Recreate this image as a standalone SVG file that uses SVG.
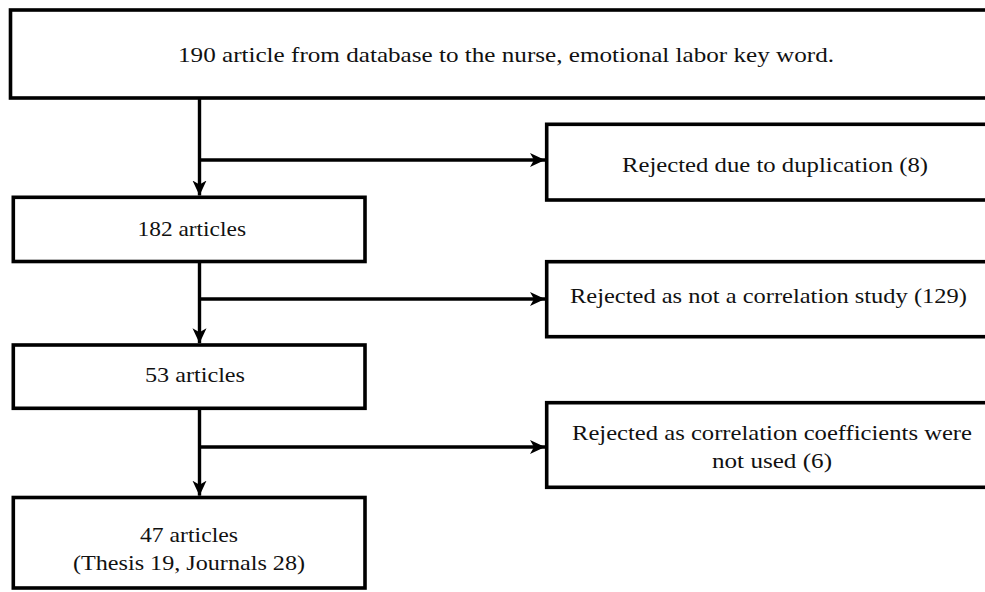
<svg xmlns="http://www.w3.org/2000/svg" width="985" height="592" viewBox="0 0 985 592">
<style>
.box{fill:#fff;stroke:#000;stroke-width:3.6}
.lbl{font-family:"Liberation Serif","Times New Roman",serif;font-size:22px;fill:#111}
.conn{fill:none;stroke:#000;stroke-width:3.4}
</style>
<defs>
<marker id="arr" markerUnits="userSpaceOnUse" markerWidth="16" markerHeight="15" refX="15" refY="7" orient="auto" viewBox="0 0 16 15">
<path d="M0,0 L15,7 L0,14 L4,7 Z" fill="#000"/>
</marker>
</defs>
<rect width="985" height="592" fill="#fff"/>
<g id="n_top">
<rect class="box" x="10.5" y="10" width="990" height="88"/>
<text class="lbl" x="178" y="61.5" textLength="656" lengthAdjust="spacingAndGlyphs">190 article from database to the nurse, emotional labor key word.</text>
</g>
<g id="n_rej1">
<rect class="box" x="546.7" y="124.3" width="450" height="75.7"/>
<text class="lbl" x="622" y="172" textLength="306" lengthAdjust="spacingAndGlyphs">Rejected due to duplication (8)</text>
</g>
<g id="n_182">
<rect class="box" x="13.3" y="197.3" width="351.7" height="64.2"/>
<text class="lbl" x="137.5" y="235.5" textLength="108.5" lengthAdjust="spacingAndGlyphs">182 articles</text>
</g>
<g id="n_rej2">
<rect class="box" x="546.7" y="261.7" width="450" height="75"/>
<text class="lbl" x="570" y="303" textLength="397" lengthAdjust="spacingAndGlyphs">Rejected as not a correlation study (129)</text>
</g>
<g id="n_53">
<rect class="box" x="13.3" y="345" width="351.7" height="63.3"/>
<text class="lbl" x="145" y="382" textLength="100" lengthAdjust="spacingAndGlyphs">53 articles</text>
</g>
<g id="n_rej3">
<rect class="box" x="546.7" y="402.7" width="450" height="84.6"/>
<text class="lbl" x="572" y="440" textLength="400" lengthAdjust="spacingAndGlyphs">Rejected as correlation coefficients were</text>
<text class="lbl" x="712" y="468" textLength="120" lengthAdjust="spacingAndGlyphs">not used (6)</text>
</g>
<g id="n_47">
<rect class="box" x="13.3" y="497.5" width="351.7" height="90.5"/>
<text class="lbl" x="140" y="541.7" textLength="98" lengthAdjust="spacingAndGlyphs">47 articles</text>
<text class="lbl" x="73" y="570" textLength="232" lengthAdjust="spacingAndGlyphs">(Thesis 19, Journals 28)</text>
</g>
<g id="connectors">
<path class="conn" d="M199.5,98 V195.5" marker-end="url(#arr)"/>
<path class="conn" d="M199.5,160 H545" marker-end="url(#arr)"/>
<path class="conn" d="M199.5,261.5 V343.2" marker-end="url(#arr)"/>
<path class="conn" d="M199.5,299 H545" marker-end="url(#arr)"/>
<path class="conn" d="M199.5,408.3 V495.7" marker-end="url(#arr)"/>
<path class="conn" d="M199.5,447 H545" marker-end="url(#arr)"/>
</g>
</svg>
